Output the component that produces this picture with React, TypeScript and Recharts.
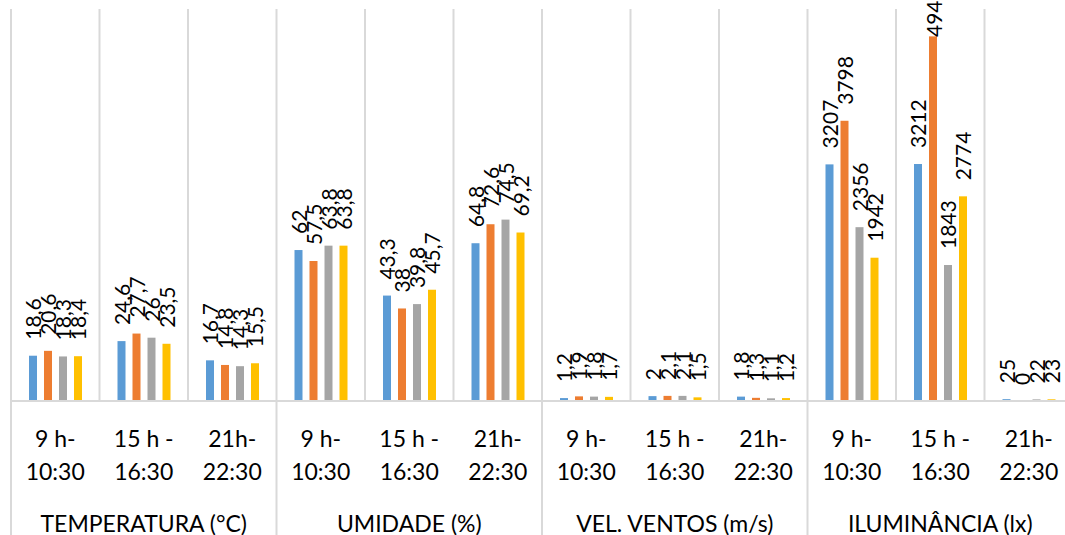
import { BarChart, Bar, XAxis, YAxis, CartesianGrid } from 'recharts';

const groups = ['TEMPERATURA (°C)', 'UMIDADE (%)', 'VEL. VENTOS (m/s)', 'ILUMINÂNCIA (lx)'];
const periods = [['9 h-', '10:30'], ['15 h -', '16:30'], ['21h-', '22:30']];

// values as labelled, group by group (3 periods each)
const serie1 = [18.6, 24.6, 16.7, 62, 43.3, 64.8, 1.2, 2, 1.8, 3207, 3212, 25];
const serie2 = [20.6, 27.7, 14.8, 57.5, 38, 72.6, 1.9, 2.1, 1.3, 3798, 4942, 0];
const serie3 = [18.3, 26, 14.3, 63.8, 39.8, 74.5, 1.8, 2.1, 1.1, 2356, 1843, 22];
const serie4 = [18.4, 23.5, 15.5, 63.8, 45.7, 69.2, 1.7, 1.5, 1.2, 1942, 2774, 23];

// the original draws illuminance bars at a reduced scale
const groupScale = [1, 1, 1, 1 / 33];

const series = [
    { key: 's1', color: '#5B9BD5', values: serie1 },
    { key: 's2', color: '#ED7D31', values: serie2 },
    { key: 's3', color: '#A5A5A5', values: serie3 },
    { key: 's4', color: '#FFC000', values: serie4 },
];

const rows = groups.flatMap((g, gi) =>
    periods.map((p, pi) => {
        const i = gi * periods.length + pi;
        const row: any = { id: `${gi}-${pi}`, group: g, top: p[0], bottom: p[1], first: pi === 0, middle: pi === 1 };
        series.forEach(s => {
            row[s.key] = s.values[i] * groupScale[gi];
            row[s.key + 'Label'] = s.values[i];
        });
        return row;
    })
);

const W = 1080;
const H = 535;
const M = { top: 9, right: 7, bottom: 0, left: 11 };
const AXIS_H = 134;
const BAND = (W - M.left - M.right) / rows.length;
const FONT = 'Lato, "Open Sans", sans-serif';
const GRID = '#d9d9d9';

const fmt = (v: number) => String(v).replace('.', ',');

// bar plus its rotated value label (LabelList skips zero-height bars)
function BarWithLabel(props: any) {
    const { x, y, width, height, fill, payload, labelKey } = props;
    const text = fmt(payload[labelKey]);
    const cx = x + width / 2;
    // keep the label inside the chart area like the spreadsheet does
    const start = Math.max(y - 16, text.length * 12 - 11);
    return (
        <g>
            {height > 0 && <rect x={x} y={y} width={width} height={height} fill={fill} />}
            <text x={cx} y={start} transform={`rotate(-90 ${cx} ${start})`} textAnchor="start"
                dominantBaseline="central" fontFamily={FONT} fontSize={21} fill="#000">
                {text}
            </text>
        </g>
    );
}

function CategoryTick(props: any) {
    const { x, y, index } = props;
    const row = rows[index];
    if (!row) return null;
    const txt = { textAnchor: 'middle' as const, fontFamily: FONT, fontSize: 23, fill: '#000' };
    return (
        <g>
            <text x={x} y={y + 46} {...txt}>{row.top}</text>
            <text x={x} y={y + 79} {...txt}>{row.bottom}</text>
            {row.middle && <text x={x} y={y + 131} {...txt}>{row.group}</text>}
            {row.first && <line x1={x - BAND / 2} x2={x - BAND / 2} y1={y} y2={y + AXIS_H} stroke={GRID} strokeWidth={2} />}
        </g>
    );
}

// separators sit on the category band edges, not the band centres
const bandEdges = ({ offset }: any) =>
    rows.map((_, i) => offset.left + (i * offset.width) / rows.length).concat(offset.left + offset.width);

export default function App() {
    return (
        <div style={{ position: 'absolute', left: 0, top: 0, width: 1065, height: 535, overflow: 'hidden', background: '#fff' }}>
            <BarChart width={W} height={H} data={rows} margin={M} barSize={8} barGap={7}>
                <CartesianGrid horizontal={false} stroke={GRID} strokeWidth={2} verticalCoordinatesGenerator={bandEdges} />
                <XAxis dataKey="id" interval={0} height={AXIS_H} tickSize={0} tickMargin={0}
                    axisLine={{ stroke: GRID, strokeWidth: 2 }} tickLine={false} tick={<CategoryTick />} />
                <YAxis hide type="number" domain={[0, 161]} />
                {series.map(s => (
                    <Bar key={s.key} dataKey={s.key} fill={s.color} isAnimationActive={false}
                        shape={(p: any) => <BarWithLabel {...p} fill={s.color} labelKey={s.key + 'Label'} />} />
                ))}
            </BarChart>
        </div>
    );
}
